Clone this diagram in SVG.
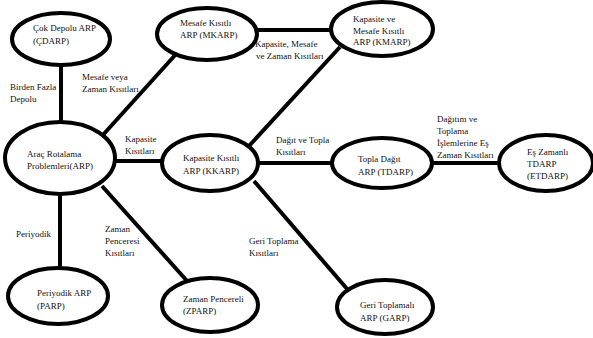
<svg xmlns="http://www.w3.org/2000/svg" width="593" height="338" viewBox="0 0 593 338">
<style>
.n{fill:#fff;stroke:#000;stroke-width:4}
.c line{stroke:#000;stroke-width:4}
text{font-family:"Liberation Serif","Times New Roman",serif;font-size:9px;fill:#111}
</style>
<rect width="593" height="338" fill="#fff"/>
<g class="c" id="connectors">
<line x1="61" y1="64" x2="61" y2="123"/>
<line x1="102" y1="136" x2="177" y2="53"/>
<line x1="256" y1="30" x2="332" y2="30"/>
<line x1="249" y1="146" x2="340" y2="47"/>
<line x1="114" y1="161" x2="163" y2="161"/>
<line x1="257" y1="163" x2="333" y2="163"/>
<line x1="431" y1="163" x2="499" y2="163"/>
<line x1="60" y1="193" x2="60" y2="269"/>
<line x1="102" y1="186" x2="188" y2="282"/>
<line x1="254" y1="181" x2="348" y2="290"/>
</g>
<g id="edge-labels">
<text x="10" y="90">Birden Fazla</text>
<text x="10" y="102">Depolu</text>
<text x="82" y="80">Mesafe veya</text>
<text x="82" y="92">Zaman Kısıtları</text>
<text x="255" y="47">Kapasite, Mesafe</text>
<text x="256" y="59">ve Zaman Kısıtları</text>
<text x="125" y="142">Kapasite</text>
<text x="125" y="154">Kısıtları</text>
<text x="276" y="143">Dağıt ve Topla</text>
<text x="276" y="155">Kısıtları</text>
<text x="437" y="122">Dağıtım ve</text>
<text x="437" y="134">Toplama</text>
<text x="437" y="146">İşlemlerine Eş</text>
<text x="437" y="158">Zaman Kısıtları</text>
<text x="16" y="237">Periyodik</text>
<text x="105" y="232">Zaman</text>
<text x="105" y="244">Penceresi</text>
<text x="105" y="256">Kısıtları</text>
<text x="249" y="244">Geri Toplama</text>
<text x="249" y="256">Kısıtları</text>
</g>
<g id="n-cdarp"><ellipse class="n" cx="61" cy="39" rx="49" ry="26"/><text x="33" y="31">Çok Depolu ARP</text><text x="33" y="44">(ÇDARP)</text></g>
<g id="n-mkarp"><ellipse class="n" cx="207" cy="34" rx="50" ry="26"/><text x="180" y="26">Mesafe Kısıtlı</text><text x="180" y="38">ARP (MKARP)</text></g>
<g id="n-kmarp"><ellipse class="n" cx="382" cy="29" rx="51" ry="27"/><text x="353" y="22">Kapasite ve</text><text x="353" y="34">Mesafe Kısıtlı</text><text x="353" y="45">ARP (KMARP)</text></g>
<g id="n-arp"><ellipse class="n" cx="60" cy="158" rx="55" ry="36"/><text x="27" y="157">Araç Rotalama</text><text x="27" y="169">Problemleri(ARP)</text></g>
<g id="n-kkarp"><ellipse class="n" cx="210" cy="163" rx="48" ry="28"/><text x="183" y="161">Kapasite Kısıtlı</text><text x="183" y="174">ARP (KKARP)</text></g>
<g id="n-tdarp"><ellipse class="n" cx="382" cy="163" rx="50" ry="25"/><text x="358" y="162">Topla Dağıt</text><text x="358" y="175">ARP (TDARP)</text></g>
<g id="n-etdarp"><ellipse class="n" cx="546" cy="163" rx="47" ry="28"/><text x="527" y="155">Eş Zamanlı</text><text x="527" y="167">TDARP</text><text x="527" y="179">(ETDARP)</text></g>
<g id="n-parp"><ellipse class="n" cx="58" cy="296" rx="50" ry="28"/><text x="37" y="296">Periyodik ARP</text><text x="37" y="309">(PARP)</text></g>
<g id="n-zparp"><ellipse class="n" cx="210" cy="305" rx="48" ry="27"/><text x="183" y="302">Zaman Pencereli</text><text x="183" y="314">(ZPARP)</text></g>
<g id="n-garp"><ellipse class="n" cx="385" cy="307" rx="48" ry="27"/><text x="360" y="308">Geri Toplamalı</text><text x="360" y="321">ARP (GARP)</text></g>
</svg>
